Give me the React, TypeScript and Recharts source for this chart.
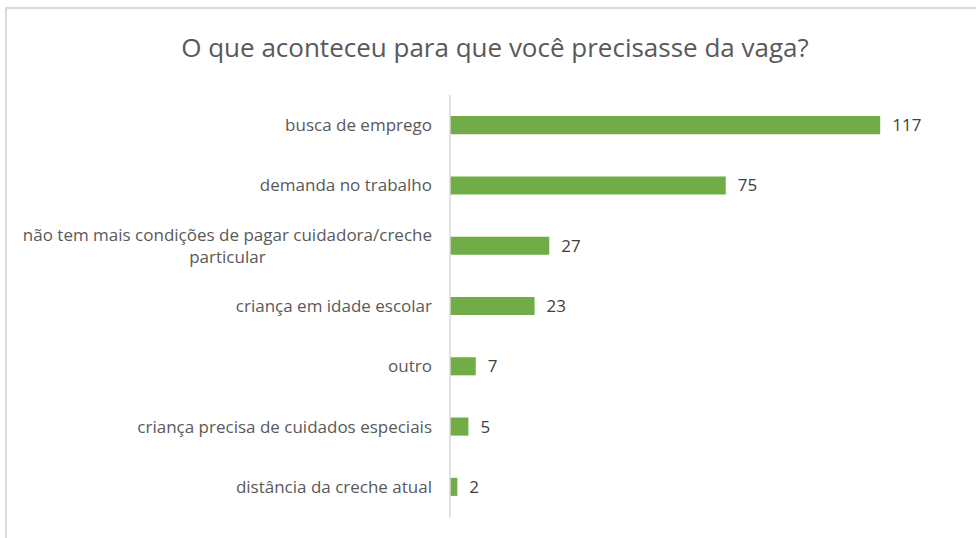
import React from 'react';
import { BarChart, Bar, XAxis, YAxis, LabelList } from 'recharts';

const categories = [
  'busca de emprego',
  'demanda no trabalho',
  'não tem mais condições de pagar cuidadora/creche particular',
  'criança em idade escolar',
  'outro',
  'criança precisa de cuidados especiais',
  'distância da creche atual',
];
const counts = [117, 75, 27, 23, 7, 5, 2];

const data = categories.map((name, i) => ({ name, value: counts[i] }));

const FONT = '"Open Sans", sans-serif';
const LABEL_SIZE = 17;

// measure text so the wrapped 2nd line can be centred under the first
let ctx: CanvasRenderingContext2D | null = null;
function measure(s: string) {
  if (!ctx) ctx = document.createElement('canvas').getContext('2d');
  if (!ctx) return s.length * 8;
  ctx.font = `${LABEL_SIZE}px ${FONT}`;
  return ctx.measureText(s).width;
}

function wrap(s: string, maxChars: number) {
  if (s.length <= maxChars) return [s];
  const cut = s.lastIndexOf(' ', maxChars);
  return [s.slice(0, cut), s.slice(cut + 1)];
}

const CategoryTick = (props: any) => {
  const { x, y, payload } = props;
  const lines = wrap(payload.value, 50);
  if (lines.length === 1) {
    return (
      <text x={x} y={y} dy={6} textAnchor="end" fill="#595959" fontSize={LABEL_SIZE} fontFamily={FONT}>
        {lines[0]}
      </text>
    );
  }
  const w = measure(lines[0]);
  return (
    <g>
      <text x={x} y={y} dy={-5} textAnchor="end" fill="#595959" fontSize={LABEL_SIZE} fontFamily={FONT}>
        {lines[0]}
      </text>
      <text x={x - w / 2} y={y} dy={17} textAnchor="middle" fill="#595959" fontSize={LABEL_SIZE} fontFamily={FONT}>
        {lines[1]}
      </text>
    </g>
  );
};

export default function App() {
  return (
    <div style={{ position: 'absolute', left: 0, top: 0, width: 976, height: 538, background: '#fff', overflow: 'hidden' }}>
      <div
        style={{
          position: 'absolute', left: 5, top: 7, width: 990, height: 560,
          borderTop: '2px solid #d9d9d9', borderLeft: '2px solid #d9d9d9',
        }}
      />
      <div
        style={{
          position: 'absolute', left: 0, top: 30, width: 990, textAlign: 'center',
          fontFamily: FONT, fontSize: 26, lineHeight: '34px', color: '#595959',
        }}
      >
        O que aconteceu para que você precisasse da vaga?
      </div>
      <div style={{ position: 'absolute', left: 0, top: 0 }}>
        <BarChart
          width={976}
          height={538}
          data={data}
          layout="vertical"
          margin={{ top: 95, right: 48, bottom: 21, left: 0 }}
          barCategoryGap="65%"
        >
          <XAxis type="number" domain={[0, 130]} hide />
          <YAxis
            type="category"
            dataKey="name"
            width={450}
            tickLine={false}
            tickMargin={12}
            axisLine={{ stroke: '#d9d9d9', strokeWidth: 1.5 }}
            tick={<CategoryTick />}
            interval={0}
          />
          <Bar dataKey="value" fill="#70AD47" isAnimationActive={false}>
            <LabelList
              dataKey="value"
              position="right"
              offset={12}
              fill="#404040"
              fontSize={17}
              fontFamily={FONT}
            />
          </Bar>
        </BarChart>
      </div>
    </div>
  );
}
